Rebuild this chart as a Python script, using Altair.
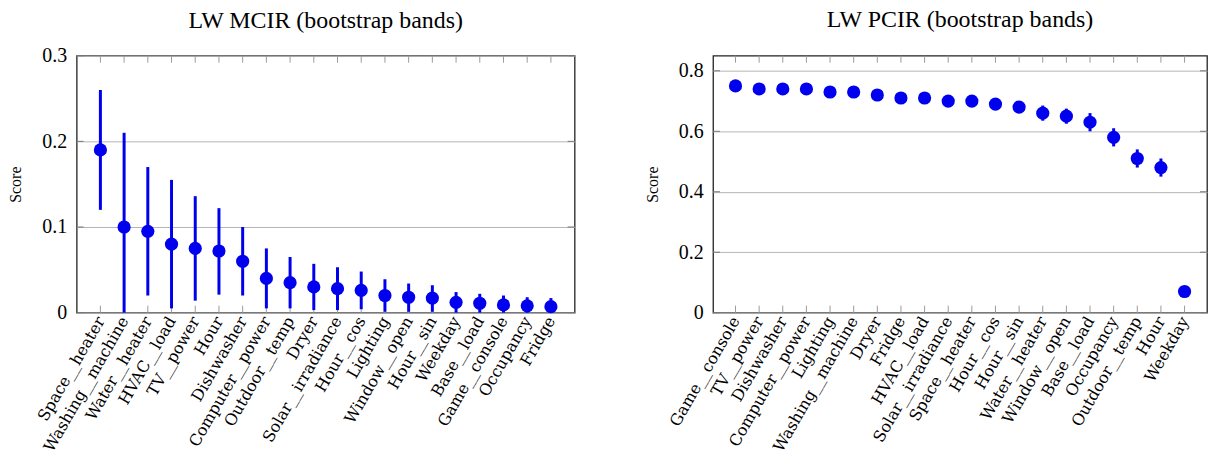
import altair as alt
import pandas as pd

# LW MCIR scores with bootstrap bands
mcir_features = [
    "Space__heater", "Washing__machine", "Water__heater", "HVAC__load", "TV__power",
    "Hour", "Dishwasher", "Computer__power", "Outdoor__temp", "Dryer",
    "Solar__irradiance", "Hour__cos", "Lighting", "Window__open", "Hour__sin",
    "Weekday", "Base__load", "Game__console", "Occupancy", "Fridge",
]
mcir_score = [0.19, 0.10, 0.095, 0.08, 0.075, 0.072, 0.06, 0.04, 0.035, 0.03,
              0.028, 0.026, 0.02, 0.018, 0.017, 0.012, 0.011, 0.009, 0.008, 0.007]
mcir_low = [0.12, 0.0, 0.02, 0.005, 0.014, 0.021, 0.02, 0.005, 0.005, 0.003,
            0.003, 0.004, 0.001, 0.001, 0.001, 0.0, 0.0, 0.0, 0.0, 0.0]
mcir_high = [0.26, 0.21, 0.17, 0.155, 0.136, 0.122, 0.10, 0.075, 0.065, 0.057,
             0.053, 0.048, 0.039, 0.034, 0.032, 0.024, 0.022, 0.02, 0.018, 0.017]

# LW PCIR scores with bootstrap bands
pcir_features = [
    "Game__console", "TV__power", "Dishwasher", "Computer__power", "Lighting",
    "Washing__machine", "Dryer", "Fridge", "HVAC__load", "Solar__irradiance",
    "Space__heater", "Hour__cos", "Hour__sin", "Water__heater", "Window__open",
    "Base__load", "Occupancy", "Outdoor__temp", "Hour", "Weekday",
]
pcir_score = [0.75, 0.74, 0.74, 0.74, 0.73, 0.73, 0.72, 0.71, 0.71, 0.70,
              0.70, 0.69, 0.68, 0.66, 0.65, 0.63, 0.58, 0.51, 0.48, 0.07]
pcir_low = [0.74, 0.73, 0.73, 0.73, 0.72, 0.72, 0.71, 0.70, 0.70, 0.69,
            0.69, 0.675, 0.665, 0.635, 0.625, 0.60, 0.55, 0.48, 0.45, 0.06]
pcir_high = [0.76, 0.75, 0.75, 0.75, 0.74, 0.74, 0.73, 0.72, 0.72, 0.71,
             0.71, 0.705, 0.695, 0.685, 0.675, 0.66, 0.61, 0.54, 0.51, 0.08]

mcir_ticks = [0, 0.1, 0.2, 0.3]
pcir_ticks = [0, 0.2, 0.4, 0.6, 0.8]

SERIF = "Liberation Serif"
LABEL_SERIF = "DejaVu Serif"
BLUE = "#0000ee"
GRID = "#b4b4b4"
TICK = "#9a9a9a"


def panel(features, score, low, high, ticks, ymax, title, width, height, pad, title_offset):
    df = pd.DataFrame({"feature": features, "score": score, "low": low, "high": high})
    tick_df = pd.DataFrame({"score": ticks})

    x_scale = alt.Scale(type="point", padding=pad)
    x_axis = alt.Axis(
        title=None, labelAngle=-60, labelAlign="right", labelBaseline="middle",
        labelFont=LABEL_SERIF, labelFontSize=16, labelColor="#000", labelPadding=5,
        ticks=False, domain=False, grid=False, labelOverlap=False,
    )
    y_scale = alt.Scale(domain=[0, ymax], nice=False, zero=True)
    y_axis = alt.Axis(
        title="Score", titleFont=SERIF, titleFontSize=16, titleFontWeight="normal",
        titleColor="#000", titlePadding=18,
        values=ticks, labelExpr="datum.value == 0 ? '0' : format(datum.value, '.1f')",
        labelFont=SERIF, labelFontSize=20, labelColor="#000", labelPadding=10,
        ticks=False, domain=False, grid=True, gridColor=GRID, gridWidth=1,
    )

    base = alt.Chart(df).encode(
        x=alt.X("feature:N", sort=None, scale=x_scale, axis=x_axis)
    )

    bands = base.mark_rule(color=BLUE, strokeWidth=3).encode(
        y=alt.Y("low:Q", scale=y_scale, axis=y_axis), y2="high:Q")
    dots = base.mark_circle(color=BLUE, size=175, opacity=1).encode(
        y=alt.Y("score:Q", scale=y_scale, axis=y_axis))

    xtick_top = base.mark_rule(color=TICK, strokeWidth=1).encode(
        y=alt.value(0), y2=alt.value(7))
    xtick_bot = base.mark_rule(color=TICK, strokeWidth=1).encode(
        y=alt.value(height), y2=alt.value(height - 7))

    ytick_l = alt.Chart(tick_df).mark_rule(color="#777", strokeWidth=1).encode(
        y=alt.Y("score:Q", scale=y_scale, axis=y_axis), x=alt.value(0), x2=alt.value(7))
    ytick_r = alt.Chart(tick_df).mark_rule(color="#777", strokeWidth=1).encode(
        y=alt.Y("score:Q", scale=y_scale, axis=y_axis), x=alt.value(width - 7), x2=alt.value(width))

    return alt.layer(xtick_top, xtick_bot, ytick_l, ytick_r, bands, dots).properties(
        width=width,
        height=height,
        title=alt.TitleParams(title, font=SERIF, fontSize=24, fontWeight="normal",
                              color="#000", offset=title_offset),
    )


left = panel(mcir_features, mcir_score, mcir_low, mcir_high, mcir_ticks, 0.3,
             "LW MCIR (bootstrap bands)", 500, 258, 1, 13)
right = panel(pcir_features, pcir_score, pcir_low, pcir_high, pcir_ticks, 0.85,
              "LW PCIR (bootstrap bands)", 496, 258, 0.95, 23)

chart = alt.hconcat(left, right, spacing=67).properties(
    background="white",
    padding={"left": 7, "top": 6, "right": 0, "bottom": 0},
).configure_view(stroke="#222", strokeWidth=1.3)

chart.save("out.html", embed_options={"renderer": "svg", "actions": False})
